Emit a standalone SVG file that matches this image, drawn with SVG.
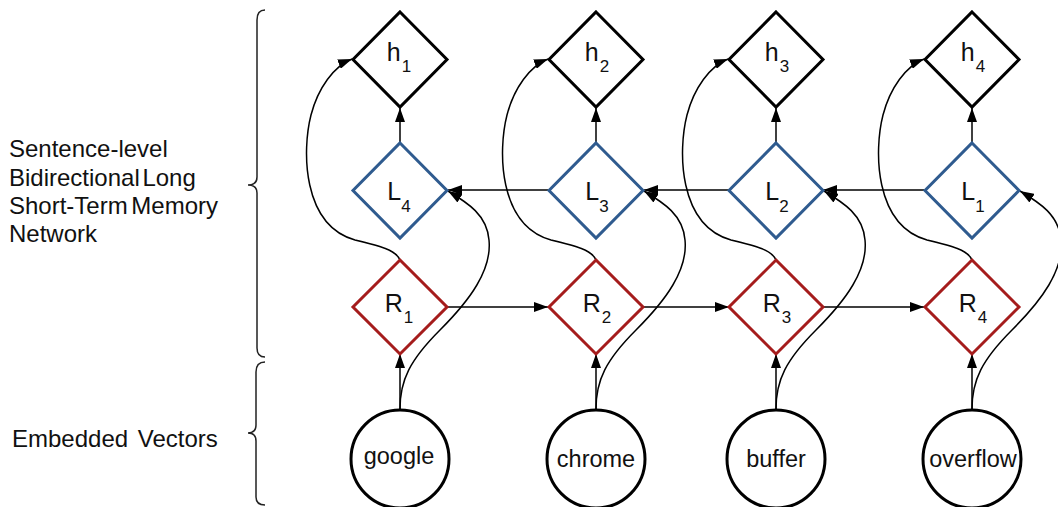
<svg xmlns="http://www.w3.org/2000/svg" width="1058" height="507" viewBox="0 0 1058 507">
  <defs>
    <marker id="arr" viewBox="0 0 14 10" refX="14" refY="5" markerWidth="14" markerHeight="10" markerUnits="userSpaceOnUse" orient="auto">
      <path d="M0,0 L14,5 L0,10 z" fill="#000"/>
    </marker>
    <style>
      .lbl { font-family: "Liberation Sans", Arial, sans-serif; fill: #111; }
      .side { font-size: 24px; }
      .node { font-size: 25px; text-anchor: middle; }
      .sub { font-size: 17px; }
      .word { font-size: 23.5px; text-anchor: middle; }
      .h { fill: #fff; stroke: #000; stroke-width: 3; }
      .l { fill: #fff; stroke: #2f5b8f; stroke-width: 3; }
      .r { fill: #fff; stroke: #a51c1c; stroke-width: 3; }
      .emb { fill: #fff; stroke: #000; stroke-width: 3; }
      .edge { fill: none; stroke: #000; stroke-width: 1.5; marker-end: url(#arr); }
      .brace { fill: none; stroke: #222; stroke-width: 1.5; }
    </style>
  </defs>

  <rect width="1058" height="507" fill="#fff"/>

  <!-- side labels and braces -->
  <g id="side-labels">
    <text class="lbl side" x="9" y="157">Sentence-level</text>
    <text class="lbl side" x="9" y="186">Bidirectional <tspan dx="-4">Long</tspan></text>
    <text class="lbl side" x="9" y="214">Short-Term <tspan dx="-3">Memory</tspan></text>
    <text class="lbl side" x="9" y="242">Network</text>
    <text class="lbl side" x="12" y="447">Embedded <tspan dx="3">Vectors</tspan></text>
    <path class="brace" d="M265,10 Q257,10 257,20 L257,177 Q257,185 248,185 Q257,185 257,193 L257,348 Q257,357 265,357"/>
    <path class="brace" d="M265,362 Q256,362 256,372 L256,425 Q256,433 248,433 Q256,433 256,441 L256,497 Q256,505 265,505"/>
  </g>

  <!-- connectors -->
  <g id="connectors">
    <!-- L to h -->
    <line class="edge" x1="400" y1="143" x2="400" y2="108"/>
    <line class="edge" x1="596" y1="143" x2="596" y2="108"/>
    <line class="edge" x1="776" y1="143" x2="776" y2="108"/>
    <line class="edge" x1="972" y1="143" x2="972" y2="108"/>
    <!-- embeddings to R -->
    <line class="edge" x1="400" y1="410" x2="400" y2="354"/>
    <line class="edge" x1="596" y1="410" x2="596" y2="354"/>
    <line class="edge" x1="776" y1="410" x2="776" y2="354"/>
    <line class="edge" x1="972" y1="410" x2="972" y2="354"/>
    <!-- forward chain R1 -> R4 -->
    <line class="edge" x1="448" y1="307" x2="548" y2="307"/>
    <line class="edge" x1="644" y1="307" x2="729" y2="307"/>
    <line class="edge" x1="823" y1="307" x2="924" y2="307"/>
    <!-- backward chain L1 -> L4 -->
    <line class="edge" x1="924" y1="190" x2="823" y2="190"/>
    <line class="edge" x1="729" y1="190" x2="644" y2="190"/>
    <line class="edge" x1="548" y1="190" x2="448" y2="190"/>
    <!-- R to h (left side) -->
    <path class="edge" d="M400,260 C396,250 380,246 355,240 C302,225 302,150 311,115 C318,88 334,66 352,59"/>
    <path class="edge" d="M596,260 C592,250 576,246 551,240 C498,225 498,150 507,115 C514,88 530,66 548,59"/>
    <path class="edge" d="M776,260 C772,250 756,246 731,240 C678,225 678,150 687,115 C694,88 710,66 728,59"/>
    <path class="edge" d="M972,260 C968,250 952,246 927,240 C874,225 874,150 883,115 C890,88 906,66 924,59"/>
    <!-- embeddings to L (right side) -->
    <path class="edge" d="M400,409 C400,380 410,360 440,330 C470,300 492,270 489,240 C487,215 468,203 448,191"/>
    <path class="edge" d="M596,409 C596,380 606,360 636,330 C666,300 688,270 685,240 C683,215 664,203 644,191"/>
    <path class="edge" d="M776,409 C776,380 786,360 816,330 C846,300 868,270 865,240 C863,215 844,203 824,191"/>
    <path class="edge" d="M972,409 C972,380 982,360 1012,330 C1042,300 1064,270 1061,240 C1059,215 1040,203 1020,191"/>
  </g>

  <!-- output nodes h -->
  <g id="h1"><path class="h" d="M400,12 L447,59.5 L400,107 L353,59.5 z"/><text class="lbl node" x="399" y="61">h<tspan class="sub" dx="1" dy="11">1</tspan></text></g>
  <g id="h2"><path class="h" d="M596,12 L643,59.5 L596,107 L549,59.5 z"/><text class="lbl node" x="597" y="61">h<tspan class="sub" dx="1" dy="11">2</tspan></text></g>
  <g id="h3"><path class="h" d="M776,12 L823,59.5 L776,107 L729,59.5 z"/><text class="lbl node" x="777" y="61">h<tspan class="sub" dx="1" dy="11">3</tspan></text></g>
  <g id="h4"><path class="h" d="M972,12 L1019,59.5 L972,107 L925,59.5 z"/><text class="lbl node" x="973" y="61">h<tspan class="sub" dx="1" dy="11">4</tspan></text></g>

  <!-- backward LSTM nodes L -->
  <g id="L4"><path class="l" d="M400,143 L447,190.5 L400,238 L353,190.5 z"/><text class="lbl node" x="399" y="200">L<tspan class="sub" dx="0" dy="12">4</tspan></text></g>
  <g id="L3"><path class="l" d="M596,143 L643,190.5 L596,238 L549,190.5 z"/><text class="lbl node" x="597" y="200">L<tspan class="sub" dx="0" dy="12">3</tspan></text></g>
  <g id="L2"><path class="l" d="M776,143 L823,190.5 L776,238 L729,190.5 z"/><text class="lbl node" x="777" y="200">L<tspan class="sub" dx="0" dy="12">2</tspan></text></g>
  <g id="L1"><path class="l" d="M972,143 L1019,190.5 L972,238 L925,190.5 z"/><text class="lbl node" x="973" y="200">L<tspan class="sub" dx="0" dy="12">1</tspan></text></g>

  <!-- forward LSTM nodes R -->
  <g id="R1"><path class="r" d="M400,260 L447,307 L400,354 L353,307 z"/><text class="lbl node" x="399" y="312">R<tspan class="sub" dx="1" dy="11">1</tspan></text></g>
  <g id="R2"><path class="r" d="M596,260 L643,307 L596,354 L549,307 z"/><text class="lbl node" x="597" y="312">R<tspan class="sub" dx="1" dy="11">2</tspan></text></g>
  <g id="R3"><path class="r" d="M776,260 L823,307 L776,354 L729,307 z"/><text class="lbl node" x="777" y="312">R<tspan class="sub" dx="1" dy="11">3</tspan></text></g>
  <g id="R4"><path class="r" d="M972,260 L1019,307 L972,354 L925,307 z"/><text class="lbl node" x="973" y="312">R<tspan class="sub" dx="1" dy="11">4</tspan></text></g>

  <!-- word embeddings -->
  <g id="google"><circle class="emb" cx="400" cy="459" r="49"/><text class="lbl word" x="399" y="464">google</text></g>
  <g id="chrome"><circle class="emb" cx="596" cy="459" r="49"/><text class="lbl word" x="596" y="467">chrome</text></g>
  <g id="buffer"><circle class="emb" cx="776" cy="459" r="49"/><text class="lbl word" x="776" y="467">buffer</text></g>
  <g id="overflow"><circle class="emb" cx="972" cy="459" r="49"/><text class="lbl word" x="973" y="467">overflow</text></g>
</svg>
